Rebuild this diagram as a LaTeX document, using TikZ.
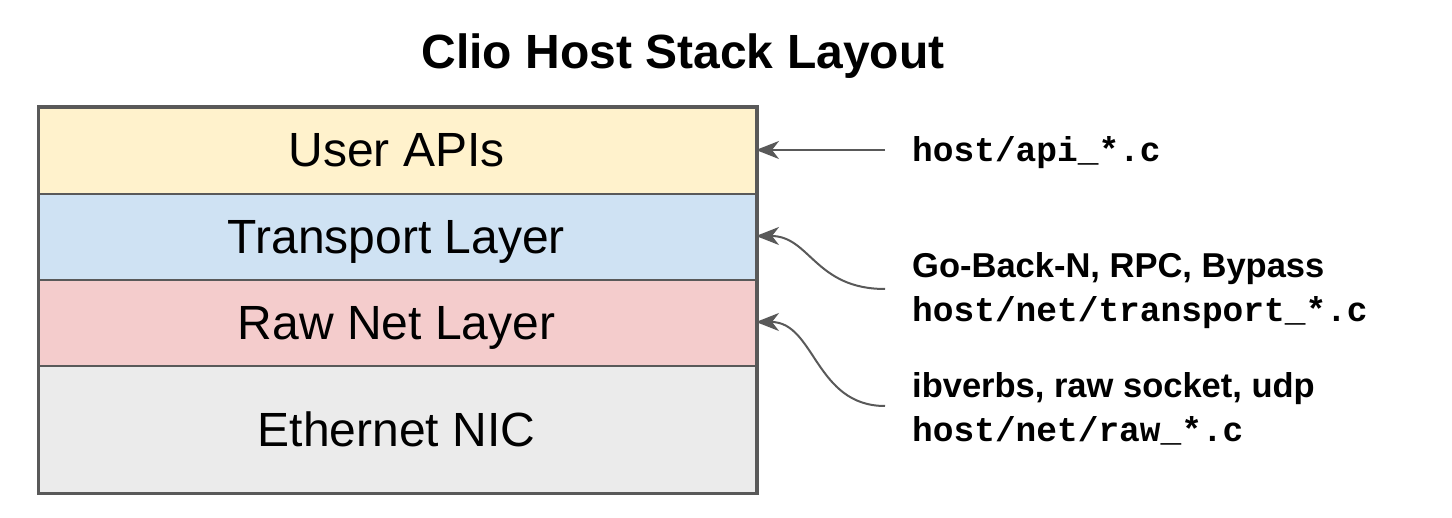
\documentclass[tikz,border=0pt]{standalone}
\usepackage{fontspec}
\setmainfont{Liberation Sans}
\setmonofont{Liberation Mono}
\usetikzlibrary{arrows.meta}
\definecolor{edge}{HTML}{595959}
\definecolor{cyellow}{HTML}{FFF2CC}
\definecolor{cblue}{HTML}{CFE2F3}
\definecolor{cred}{HTML}{F4CCCC}
\definecolor{cgray}{HTML}{EBEBEB}
\begin{document}
\begin{tikzpicture}[x=1pt,y=-1pt,
  layer/.style={draw=edge,line width=2pt,minimum width=717pt,inner sep=0pt,anchor=north west},
  ltext/.style={anchor=base,font=\fontsize{48}{56}\selectfont},
  rlabel/.style={anchor=base west,inner sep=0pt,font=\fontsize{34.5}{40}\selectfont\bfseries},
  rcode/.style={anchor=base west,inner sep=0pt,font=\fontsize{34.5}{40}\selectfont\ttfamily\bfseries},
  conn/.style={draw=edge,line width=2pt,-{Stealth[length=23pt,width=18pt,inset=7pt]}}]
\useasboundingbox (0,0) rectangle (1452,518);
\node[anchor=base,font=\fontsize{48}{56}\selectfont\bfseries] (title) at (683,69) {Clio Host Stack Layout};
\node[layer,fill=cyellow,minimum height=86pt] (api) at (38,107) {};
\node[layer,fill=cblue,minimum height=86pt] (tr) at (38,193) {};
\node[layer,fill=cred,minimum height=86pt] (raw) at (38,279) {};
\node[layer,fill=cgray,minimum height=127pt] (eth) at (38,365) {};
\draw[edge,line width=3pt] (api.north west) rectangle (eth.south east);
\node[ltext] (tapi) at (396.5,167) {User APIs};
\node[ltext] (ttr) at (396.5,254) {Transport Layer};
\node[ltext] (traw) at (396.5,340) {Raw Net Layer};
\node[ltext] (teth) at (396.5,447) {Ethernet NIC};
\node[rcode] (lapi) at (912,162) {host/api\_*.c};
\node[rlabel] (ltr) at (912,278) {Go-Back-N, RPC, Bypass};
\node[rcode] (ctr) at (912,322) {host/net/transport\_*.c};
\node[rlabel] (lraw) at (912,398) {ibverbs, raw socket, udp};
\node[rcode] (craw) at (912,442) {host/net/raw\_*.c};
\coordinate (s1) at (885,150);
\coordinate (e1) at (756,150);
\coordinate (s2) at (885,289);
\coordinate (e2) at (756,236);
\coordinate (s3) at (885,406);
\coordinate (e3) at (756,322);
\draw[conn] (s1) -- (e1);
\draw[conn] (s2) .. controls (815,289) and (810,236) .. (e2);
\draw[conn] (s3) .. controls (815,406) and (815,322) .. (e3);
\end{tikzpicture}
\end{document}
